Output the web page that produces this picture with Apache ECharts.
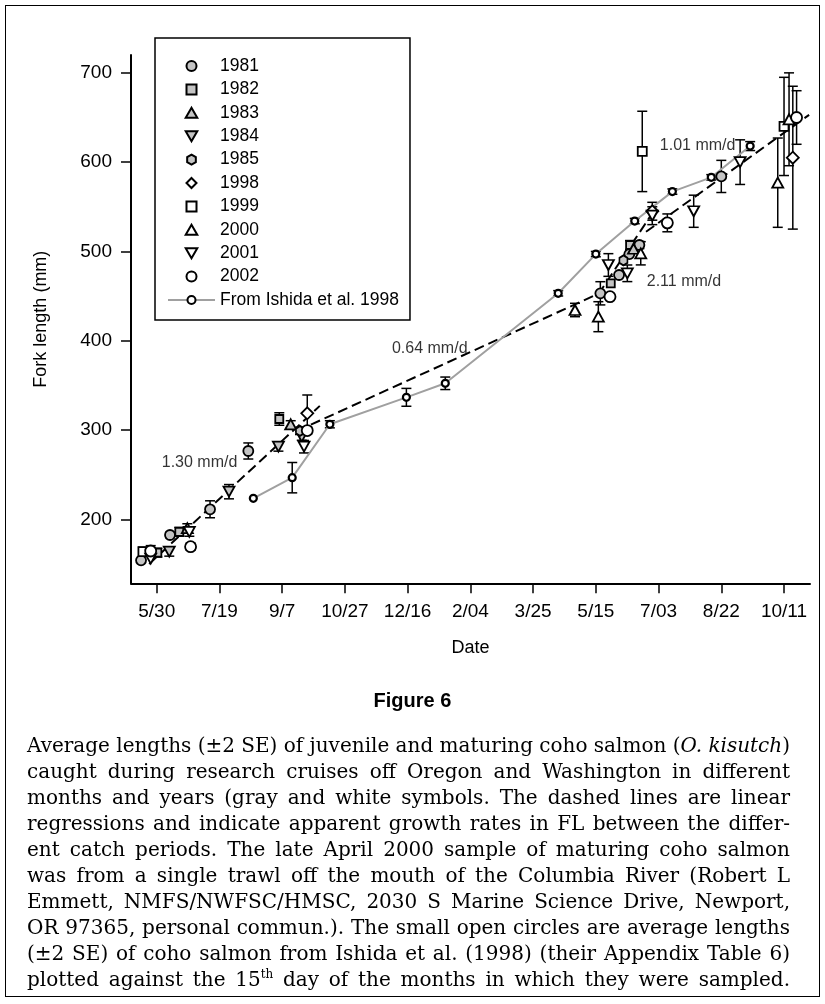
<!DOCTYPE html>
<html><head><meta charset="utf-8">
<script src="https://cdn.jsdelivr.net/npm/echarts@6/dist/echarts.min.js"></script>
<style>
html,body{margin:0;padding:0;background:#fff;}
#wrap{position:relative;width:825px;height:1004px;overflow:hidden;background:#fff;}
#chart{position:absolute;left:0;top:0;width:825px;height:1004px;}
#frame{position:absolute;left:5px;top:5px;width:815px;height:992px;border:1.5px solid #000;box-sizing:border-box;pointer-events:none;}
#fig{position:absolute;left:0;width:825px;top:689px;text-align:center;font:bold 20px "Liberation Sans",Arial,sans-serif;color:#000;}
#cap{position:absolute;left:27px;width:763px;top:732px;font:20px "DejaVu Serif",serif;line-height:26px;color:#000;}
#cap div{white-space:nowrap;height:26px;}
#cap span{display:inline-block;white-space:nowrap;}
sup{font-size:12px;line-height:0;}
</style></head>
<body><div id="wrap"><div id="chart"></div><div id="frame"></div>
<div id="fig">Figure 6</div>
<div id="cap">
<div><span>Average lengths (±2 SE) of juvenile and maturing coho salmon (<i>O. kisutch</i>)</span></div>
<div><span>caught during research cruises off Oregon and Washington in different</span></div>
<div><span>months and years (gray and white symbols. The dashed lines are linear</span></div>
<div><span>regressions and indicate apparent growth rates in FL between the differ-</span></div>
<div><span>ent catch periods. The late April 2000 sample of maturing coho salmon</span></div>
<div><span>was from a single trawl off the mouth of the Columbia River (Robert L</span></div>
<div><span>Emmett, NMFS/NWFSC/HMSC, 2030 S Marine Science Drive, Newport,</span></div>
<div><span>OR 97365, personal commun.). The small open circles are average lengths</span></div>
<div><span>(±2 SE) of coho salmon from Ishida et al. (1998) (their Appendix Table 6)</span></div>
<div><span>plotted against the 15<sup>th</sup> day of the months in which they were sampled.</span></div>
</div></div>
<script>
// ---- axis ticks ----
const xTicks = [150,200,250,300,350,400,450,500,550,600,650];
const xTickLabels = ['5/30','7/19','9/7','10/27','12/16','2/04','3/25','5/15','7/03','8/22','10/11'];
const yTicks = [200,300,400,500,600,700];

// ---- data: [day, mean FL (mm), 2 SE] ----
const y1981 = [[137.5,154,0],[160.6,182.4,3],[192.5,211.2,9.5],[223,276.5,9],[503.6,453.1,13],[518.5,473.6,0],[526.7,497,0],[534.7,507.2,4],[600,584,18]];
const y1982 = [[150.5,162.6,5],[168,186,5],[247.7,312.3,7],[511.9,464.3,0],[527.3,507.2,5]];
const y1983 = [[174.4,190,5],[256.8,306.4,4],[530,503,4]];
const y1984 = [[160,163.7,5],[207.6,230.9,8],[247,281.3,5],[265.6,292.5,4]];
const y1985 = [[264.2,298.9,4],[522,490,0]];
const y1998 = [[270,318.7,20.5],[545,545,10],[657,605,80]];
const y1999 = [[139,163.7,5],[537,612,45],[650,640,55]];
const y2000 = [[483.4,434.4,7.5],[502,426.9,16.8],[535.8,497.9,13],[645,577,50],[654,648,52]];
const y2001 = [[145.2,156,0],[176,186,5],[267.4,281.3,7],[510,484.8,12.7],[525.1,475.5,9.3],[545,540,10],[578,545,18],[615,600,25]];
const y2002 = [[145.2,164.5,6],[177,169.3,4],[270,299.4,4],[511.3,449.3,3],[557,532,10],[660,650,30]];
const ishida = [[227,223.5,0],[258,246.6,17],[288,306.4,4],[349,336.6,10],[380,352.3,7],[470,453.1,3],[500,497,3],[531,534,3],[561,567,3],[592,583,3],[623,618,5]];

// regression lines (endpoints) and labels
const reg130 = [[144,150],[280,327]];
const reg064 = [[262,299],[502,452.6]];
const reg211 = [[502,452],[548,549]];
const reg101 = [[540,522],[670,653]];
const rateLabels = [[154,263.4,'1.30 mm/d'],[337.5,390.7,'0.64 mm/d'],[540.6,466,'2.11 mm/d'],[551,618,'1.01 mm/d']];

const GRAY = '#c4c4c4';
const UP = 'path://M0,-0.866L1,0.866L-1,0.866Z';
const DOWN = 'path://M-1,-0.866L1,-0.866L0,0.866Z';
const HEX = 'path://M0,-1L0.866,-0.5L0.866,0.5L0,1L-0.866,0.5L-0.866,-0.5Z';
const DIAM = 'path://M0,-1L1,0L0,1L-1,0Z';
const SQ = 'path://M-1,-1L1,-1L1,1L-1,1Z';
const groups = [
  {name:'1981', data:y1981, symbol:'circle', size:10, fill:GRAY},
  {name:'1982', data:y1982, symbol:SQ, size:8, fill:GRAY},
  {name:'1983', data:y1983, symbol:UP, size:[11,10], fill:GRAY},
  {name:'1984', data:y1984, symbol:DOWN, size:[11,10], fill:GRAY},
  {name:'1985', data:y1985, symbol:HEX, size:[8,10], fill:GRAY},
  {name:'1998', data:y1998, symbol:DIAM, size:12, fill:'#fff'},
  {name:'1999', data:y1999, symbol:SQ, size:9, fill:'#fff'},
  {name:'2000', data:y2000, symbol:UP, size:[11,10], fill:'#fff'},
  {name:'2001', data:y2001, symbol:DOWN, size:[11,10], fill:'#fff'},
  {name:'2002', data:y2002, symbol:'circle', size:11, fill:'#fff'}
];

const FONT = '"Liberation Sans", Arial, Helvetica, sans-serif';
const chart = echarts.init(document.getElementById('chart'), null, {renderer:'canvas'});

const errData = [];
groups.forEach(g => g.data.forEach(d => { if (d[2] > 0) errData.push(d); }));
ishida.forEach(d => { if (d[2] > 0) errData.push(d); });

const series = [];
series.push({
  type:'custom', name:'err', silent:true, z:3, clip:false,
  data: errData,
  renderItem(params, api){
    const x = api.value(0), y = api.value(1), e = api.value(2);
    const t = api.coord([x, y+e]), b = api.coord([x, y-e]);
    const h = 5, st = {stroke:'#000', lineWidth:1.5};
    return {type:'group', children:[
      {type:'line', shape:{x1:t[0],y1:t[1],x2:b[0],y2:b[1]}, style:st},
      {type:'line', shape:{x1:t[0]-h,y1:t[1],x2:t[0]+h,y2:t[1]}, style:st},
      {type:'line', shape:{x1:b[0]-h,y1:b[1],x2:b[0]+h,y2:b[1]}, style:st}
    ]};
  }
});
[reg130, reg064, reg211, reg101].forEach((r,i) => series.push({
  type:'line', name:'reg'+i, data:r, symbol:'none', silent:true, z:4,
  lineStyle:{color:'#000', width:2, type:[10,5]}
}));
series.push({
  type:'line', name:'From Ishida et al. 1998', data:ishida.map(d=>[d[0],d[1]]),
  symbol:'circle', symbolSize:7, z:5, silent:true,
  lineStyle:{color:'#a0a0a0', width:2},
  itemStyle:{color:'#fff', borderColor:'#000', borderWidth:2.2}
});
groups.forEach(g => series.push({
  type:'scatter', name:g.name, data:g.data.map(d=>[d[0],d[1]]),
  symbol:g.symbol, symbolSize:g.size, z:6, silent:true,
  itemStyle:{color:g.fill, borderColor:'#000', borderWidth:1.8, opacity:1}
}));
series.push({
  type:'scatter', name:'labels', data:rateLabels.map(d=>({value:[d[0],d[1]], label:{formatter:d[2]}})),
  symbolSize:0, silent:true, z:7,
  label:{show:true, position:'right', distance:0, color:'#000', fontSize:16, fontFamily:FONT}
});

chart.setOption({
  animation:false,
  backgroundColor:'transparent',
  textStyle:{fontFamily:FONT, color:'#000'},
  grid:{left:131, right:15, top:55, bottom:420.7, containLabel:false},
  xAxis:{
    type:'value', min:129.5, max:670.7,
    name:'Date', nameLocation:'middle', nameGap:56,
    nameTextStyle:{fontSize:18, color:'#000', fontFamily:FONT},
    axisLine:{show:true, lineStyle:{color:'#000', width:2}},
    axisTick:{show:true, length:10, lineStyle:{color:'#000', width:1.5}, customValues:xTicks},
    axisLabel:{show:true, customValues:xTicks, margin:19, fontSize:19, color:'#000', fontFamily:FONT,
      formatter:v => { const i = xTicks.indexOf(Math.round(v)); return i>=0 ? xTickLabels[i] : ''; }},
    splitLine:{show:false}
  },
  yAxis:{
    type:'value', min:128.3, max:720,
    name:'Fork length (mm)', nameLocation:'middle', nameGap:81, nameRotate:90,
    nameTextStyle:{fontSize:18, color:'#000', fontFamily:FONT},
    axisLine:{show:true, lineStyle:{color:'#000', width:2}},
    axisTick:{show:true, length:10, lineStyle:{color:'#000', width:1.5}, customValues:yTicks},
    axisLabel:{show:true, customValues:yTicks, margin:19, fontSize:19, color:'#000', fontFamily:FONT},
    splitLine:{show:false}
  },
  legend:{
    show:true, orient:'vertical', left:155, top:38,
    padding:[19,11,11,12], borderColor:'#000', borderWidth:1.5, backgroundColor:'#fff',
    itemWidth:47, itemHeight:10, itemGap:5.4, selectedMode:false,
    textStyle:{fontSize:17.5, color:'#000', fontFamily:FONT},
    data: groups.map(g=>g.name).concat(['From Ishida et al. 1998'])
  },
  series
});

// justify caption lines to full width
document.querySelectorAll('#cap span').forEach(sp => {
  const target = 763;
  const w = sp.getBoundingClientRect().width;
  const spaces = (sp.textContent.match(/ /g) || []).length;
  if (spaces > 0) sp.style.wordSpacing = ((target - w) / spaces) + 'px';
});
</script></body></html>
